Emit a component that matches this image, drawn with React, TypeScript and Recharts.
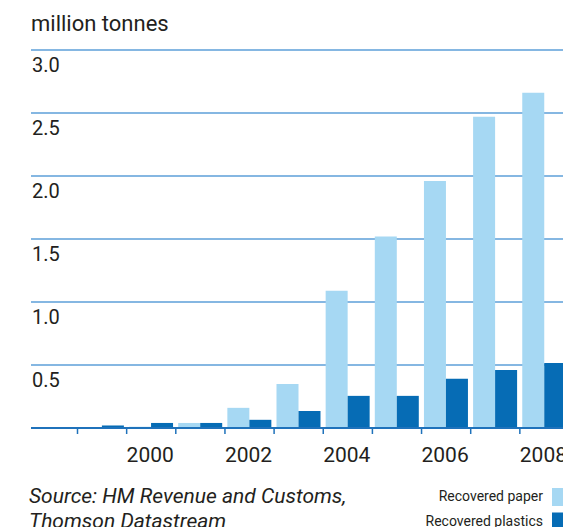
import { Bar, BarChart, CartesianGrid, XAxis, YAxis } from "recharts";

const years = [1999, 2000, 2001, 2002, 2003, 2004, 2005, 2006, 2007, 2008];
const paper = [0, 0.01, 0.04, 0.16, 0.35, 1.09, 1.52, 1.96, 2.47, 2.66];
const plastics = [0.02, 0.04, 0.04, 0.065, 0.135, 0.255, 0.255, 0.39, 0.46, 0.515];
const yTicks = [0, 0.5, 1, 1.5, 2, 2.5, 3];
const labelledYears = [2000, 2002, 2004, 2006, 2008];

const series = [
  { key: "paper", name: "Recovered paper", color: "#a6d8f3" },
  { key: "plastics", name: "Recovered plastics", color: "#066cb5" },
];

const data = years.map((year, i) => ({ year, paper: paper[i], plastics: plastics[i] }));

const W = 569;
const H = 470;
const M = { top: 50, right: 0, bottom: 0, left: 30 };
const Y_W = 1;
const PAD_LEFT = 46.5;
const BAND = (W - M.left - Y_W - M.right - PAD_LEFT) / years.length;

const GRID = "#5c9fd8";
const AXIS = "#1f72bb";
const TEXT = "#231f20";
const FONT = "Roboto, 'DejaVu Sans', sans-serif";

function YTick(props: any) {
  const v = props.payload.value as number;
  if (v === 0) return null;
  return (
    <text x={M.left + Y_W + 1} y={props.y + 22} fill={TEXT} fontSize={20} fontFamily={FONT} textAnchor="start">
      {v.toFixed(1)}
    </text>
  );
}

function XTick(props: any) {
  const { x, y, payload } = props;
  const year = payload.value as number;
  const left = x - BAND / 2;
  return (
    <g>
      <line x1={left} x2={left} y1={y} y2={y + 6} stroke={AXIS} strokeWidth={1.5} />
      {labelledYears.includes(year) && (
        <text x={x - 1} y={y + 34} fill={TEXT} fontSize={21} fontFamily={FONT} textAnchor="middle">
          {year}
        </text>
      )}
    </g>
  );
}

export default function App() {
  return (
    <div
      style={{
        position: "absolute",
        left: 0,
        top: 0,
        width: 563,
        height: 527,
        overflow: "hidden",
        background: "#fff",
      }}
    >
      <div style={{ position: "absolute", left: 0, top: 0 }}>
        <BarChart width={W} height={H} data={data} margin={M} barCategoryGap={2.4} barGap={0}>
          <CartesianGrid vertical={false} stroke={GRID} strokeWidth={1.5} />
          <YAxis
            domain={[0, 3]}
            ticks={yTicks}
            width={Y_W}
            axisLine={false}
            tickLine={false}
            tick={<YTick />}
          />
          <XAxis
            dataKey="year"
            interval={0}
            padding={{ left: PAD_LEFT, right: 0 }}
            axisLine={{ stroke: AXIS, strokeWidth: 2 }}
            tickLine={false}
            tickSize={0}
            tickMargin={0}
            height={H - M.top - 378}
            tick={<XTick />}
          />
          {series.map((s) => (
            <Bar key={s.key} dataKey={s.key} name={s.name} fill={s.color} isAnimationActive={false} />
          ))}
        </BarChart>
      </div>
      <svg width={563} height={527} style={{ position: "absolute", left: 0, top: 0, pointerEvents: "none" }}>
        <text x={31} y={31} fill={TEXT} fontSize={22} fontFamily={FONT}>
          million tonnes
        </text>
        <text x={29} y={503} fill={TEXT} fontSize={21} fontStyle="italic" fontFamily={FONT}>
          Source: HM Revenue and Customs,
        </text>
        <text x={29} y={528} fill={TEXT} fontSize={21} fontStyle="italic" fontFamily={FONT}>
          Thomson Datastream
        </text>
        {series.map((s, i) => (
          <g key={s.key}>
            <text x={543} y={501 + i * 24.5} fill={TEXT} fontSize={14} fontFamily={FONT} textAnchor="end">
              {s.name}
            </text>
            <rect x={552} y={488 + i * 24.5} width={20} height={18} fill={s.color} />
          </g>
        ))}
      </svg>
    </div>
  );
}
